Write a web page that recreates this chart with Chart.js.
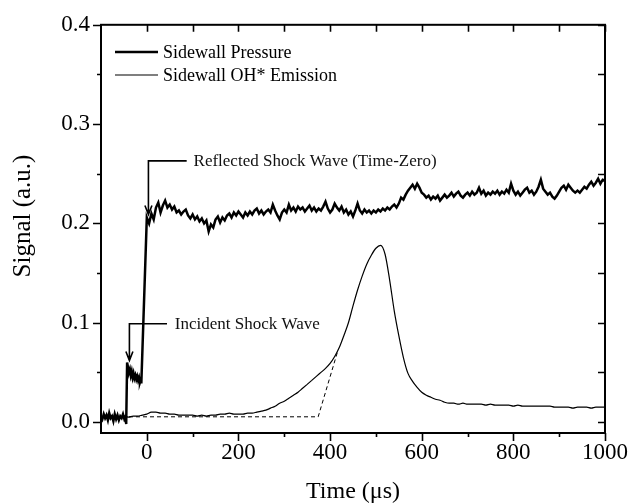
<!DOCTYPE html>
<html>
<head>
<meta charset="utf-8">
<script src="https://cdn.jsdelivr.net/npm/chart.js@4/dist/chart.umd.min.js"></script>
<style>
html,body{margin:0;padding:0;background:#fff;}
#wrap{width:634px;height:504px;}
</style>
</head>
<body>
<div id="wrap"><canvas id="c" width="634" height="504"></canvas></div>
<script>
// ---------------- data ----------------
const xTickLabels = [0, 200, 400, 600, 800, 1000];
const xMinorTicks = [100, 300, 500, 700, 900];
const yTickLabels = [0, 0.1, 0.2, 0.3, 0.4];
const yMinorTicks = [0.05, 0.15, 0.25, 0.35];

const seriesNames = ["Sidewall Pressure", "Sidewall OH* Emission"];

const pressureTime = [
  -100,-97,-94,-91,-88,-85,-82,-79,-76,-73,-70,-67,-64,-61,-58,-55,-52,-49,-46,
  -45,-43,-41,-39,-37,-35,-33,-31,-29,-27,-25,-23,-21,-19,-17,-15,-13,-12,
  0,5,10,15,20,25,30,35,40,45,50,55,60,65,70,75,80,85,90,95,
  100,105,110,115,120,125,130,135,140,145,150,155,160,165,170,175,180,185,190,195,
  200,205,210,215,220,225,230,235,240,245,250,255,260,265,270,275,280,285,290,295,
  300,305,310,315,320,325,330,335,340,345,350,355,360,365,370,375,380,385,390,395,
  400,405,410,415,420,425,430,435,440,445,450,455,460,465,470,475,480,485,490,495,
  500,505,510,515,520,525,530,535,540,545,550,555,560,565,570,575,580,585,590,595,
  600,605,610,615,620,625,630,635,640,645,650,655,660,665,670,675,680,685,690,695,
  700,705,710,715,720,725,730,735,740,745,750,755,760,765,770,775,780,785,790,795,
  800,805,810,815,820,825,830,835,840,845,850,855,860,865,870,875,880,885,890,895,
  900,905,910,915,920,925,930,935,940,945,950,955,960,965,970,975,980,985,990,995,
  1000
];
const pressureSignal = [
  0.006,0.003,0.008,0.004,0.007,0.002,0.009,0.004,0.006,0.001,0.008,0.003,0.007,0.002,0.006,0.004,0.008,0.003,0.006,
  -0.002,0.060,0.055,0.050,0.053,0.047,0.051,0.045,0.049,0.044,0.047,0.043,0.046,0.042,0.045,0.040,0.043,0.039,
  0.206,0.200,0.210,0.204,0.216,0.221,0.211,0.218,0.223,0.216,0.219,0.214,0.217,0.211,0.213,0.209,0.212,0.214,0.208,0.205,
  0.209,0.204,0.207,0.202,0.205,0.200,0.203,0.192,0.199,0.196,0.204,0.207,0.201,0.206,0.203,0.208,0.210,0.206,0.211,0.208,
  0.212,0.209,0.206,0.211,0.208,0.212,0.209,0.213,0.215,0.210,0.213,0.209,0.212,0.214,0.211,0.219,0.213,0.208,0.204,0.211,
  0.214,0.211,0.219,0.213,0.216,0.212,0.217,0.214,0.216,0.212,0.215,0.218,0.213,0.216,0.212,0.215,0.213,0.217,0.222,0.215,
  0.211,0.214,0.220,0.216,0.213,0.217,0.211,0.214,0.209,0.212,0.207,0.213,0.220,0.213,0.210,0.214,0.211,0.213,0.210,0.213,
  0.211,0.214,0.212,0.215,0.213,0.216,0.214,0.217,0.219,0.216,0.220,0.226,0.224,0.229,0.233,0.236,0.239,0.235,0.240,0.236,
  0.231,0.229,0.226,0.228,0.224,0.227,0.225,0.228,0.223,0.226,0.229,0.226,0.228,0.231,0.227,0.230,0.232,0.228,0.226,0.229,
  0.231,0.228,0.232,0.229,0.231,0.236,0.230,0.233,0.228,0.231,0.229,0.232,0.230,0.233,0.229,0.232,0.230,0.234,0.231,0.240,
  0.233,0.229,0.232,0.228,0.231,0.234,0.236,0.231,0.233,0.229,0.232,0.237,0.244,0.235,0.232,0.229,0.231,0.227,0.225,0.228,
  0.232,0.236,0.238,0.234,0.239,0.236,0.233,0.231,0.233,0.231,0.234,0.237,0.235,0.239,0.242,0.238,0.241,0.245,0.240,0.244,
  0.243
];

const ohTime = [
  -100,-90,-80,-70,-60,-50,-40,-30,-20,-10,
  0,10,20,30,40,50,60,70,80,90,
  100,110,120,130,140,150,160,170,180,190,
  200,210,220,230,240,250,260,270,280,290,
  300,310,320,330,340,350,360,370,380,390,
  400,410,420,430,440,450,460,470,480,490,
  500,510,520,530,540,550,560,570,580,590,
  600,610,620,630,640,650,660,670,680,690,
  700,710,720,730,740,750,760,770,780,790,
  800,810,820,830,840,850,860,870,880,890,
  900,910,920,930,940,950,960,970,980,990,
  1000
];
const ohSignal = [
  0.005,0.006,0.005,0.006,0.005,0.006,0.005,0.006,0.006,0.007,
  0.008,0.010,0.010,0.009,0.009,0.008,0.008,0.007,0.007,0.007,
  0.007,0.006,0.007,0.006,0.007,0.007,0.008,0.008,0.009,0.008,
  0.008,0.008,0.009,0.009,0.010,0.011,0.012,0.014,0.016,0.019,
  0.021,0.024,0.027,0.030,0.034,0.038,0.042,0.046,0.050,0.054,
  0.059,0.066,0.075,0.087,0.100,0.117,0.133,0.147,0.159,0.168,
  0.175,0.178,0.169,0.143,0.112,0.087,0.065,0.049,0.041,0.035,
  0.030,0.027,0.025,0.023,0.022,0.020,0.019,0.019,0.018,0.019,
  0.018,0.018,0.018,0.018,0.017,0.018,0.017,0.017,0.017,0.017,
  0.016,0.017,0.016,0.016,0.016,0.016,0.016,0.016,0.016,0.015,
  0.015,0.015,0.015,0.014,0.015,0.015,0.015,0.014,0.015,0.015,
  0.015
];

// dashed baseline / onset construction line
const baselineTime = [-100, 374, 417];
const baselineSignal = [0.0053, 0.0053, 0.072];

// annotations (data units)
const annoText = ["Reflected Shock Wave (Time-Zero)", "Incident Shock Wave"];
const annoStemX = [3.5, -38];
const annoTopY = [0.263, 0.099];
const annoTipY = [0.209, 0.062];
const annoEndX = [87, 44];
const annoTextX = [102, 61];

// ---------------- chart ----------------
const SERIF = '"Liberation Serif","Times New Roman",Times,serif';
function pts(xs, ys){ const n=Math.min(xs.length, ys.length); const a=[]; for(let i=0;i<n;i++) a.push({x:xs[i], y:ys[i]}); return a; }

const deco = {
  id: 'deco',
  afterDraw(chart){
    const ctx = chart.ctx, ca = chart.chartArea, xs = chart.scales.x, ys = chart.scales.y;
    ctx.save();
    ctx.strokeStyle = '#000';
    ctx.lineWidth = 2;
    ctx.strokeRect(ca.left, ca.top, ca.right - ca.left, ca.bottom - ca.top);
    ctx.lineWidth = 1.6;
    ctx.beginPath();
    const yAll = yTickLabels.map(v=>[v,true]).concat(yMinorTicks.map(v=>[v,false]));
    yAll.forEach(([v,maj])=>{
      const p = Math.round(ys.getPixelForValue(v)) + 0.5;
      ctx.moveTo(ca.left, p); ctx.lineTo(ca.left - (maj?8:4), p);
      ctx.moveTo(ca.right, p); ctx.lineTo(ca.right - 7, p);
    });
    const xAll = xTickLabels.map(v=>[v,true]).concat(xMinorTicks.map(v=>[v,false]));
    xAll.forEach(([v,maj])=>{
      const p = Math.round(xs.getPixelForValue(v)) + 0.5;
      ctx.moveTo(p, ca.bottom); ctx.lineTo(p, ca.bottom + (maj?8:4));
      ctx.moveTo(p, ca.top); ctx.lineTo(p, ca.top + 7);
    });
    ctx.stroke();

    ctx.fillStyle = '#000';
    ctx.font = '24px ' + SERIF;
    ctx.textAlign = 'center';
    ctx.textBaseline = 'alphabetic';
    ctx.fillText('Time (\u03bcs)', (ca.left + ca.right)/2, 498);
    ctx.save();
    ctx.translate(30, 216);
    ctx.rotate(-Math.PI/2);
    ctx.font = '25px ' + SERIF;
    ctx.fillText('Signal (a.u.)', 0, 0);
    ctx.restore();

    ctx.font = '18px ' + SERIF;
    ctx.textAlign = 'left';
    ctx.textBaseline = 'middle';
    const lw = [2.4, 1.2];
    const ly = [52, 75];
    for (let i=0;i<2;i++){
      ctx.lineWidth = lw[i];
      ctx.beginPath(); ctx.moveTo(115, ly[i]); ctx.lineTo(158, ly[i]); ctx.stroke();
      ctx.fillText(seriesNames[i], 163, ly[i] + 1);
    }

    ctx.font = '17px ' + SERIF;
    ctx.fillStyle = '#111';
    for (let i=0;i<annoText.length;i++){
      const sx = xs.getPixelForValue(annoStemX[i]);
      const ty = ys.getPixelForValue(annoTopY[i]);
      const tip = ys.getPixelForValue(annoTipY[i]);
      const ex = xs.getPixelForValue(annoEndX[i]);
      const tx = xs.getPixelForValue(annoTextX[i]);
      ctx.lineWidth = 1.6;
      ctx.beginPath();
      ctx.moveTo(ex, ty); ctx.lineTo(sx, ty); ctx.lineTo(sx, tip);
      ctx.moveTo(sx - 3.5, tip - 9); ctx.lineTo(sx, tip); ctx.lineTo(sx + 3.5, tip - 9);
      ctx.stroke();
      ctx.fillText(annoText[i], tx, ty + 1);
    }
    ctx.restore();
  }
};

new Chart(document.getElementById('c'), {
  type: 'line',
  data: {
    datasets: [
      { label: seriesNames[0], data: pts(pressureTime, pressureSignal), borderColor: '#000', borderWidth: 2.5, pointRadius: 0, tension: 0, fill: false },
      { label: seriesNames[1], data: pts(ohTime, ohSignal), borderColor: '#000', borderWidth: 1.2, pointRadius: 0, cubicInterpolationMode: 'monotone', fill: false },
      { label: 'baseline', data: pts(baselineTime, baselineSignal), borderColor: '#000', borderWidth: 1, borderDash: [4, 3], pointRadius: 0, tension: 0, fill: false }
    ]
  },
  options: {
    responsive: false,
    animation: false,
    layout: { padding: { left: 0, right: 25, top: 22, bottom: 0 } },
    plugins: { legend: { display: false }, tooltip: { enabled: false }, title: { display: false } },
    scales: {
      x: {
        type: 'linear', min: -100, max: 1000,
        afterBuildTicks: s => { s.ticks = xTickLabels.map(v => ({ value: v })); },
        afterFit: s => { s.height = 71; },
        grid: { display: false, drawTicks: false },
        border: { display: false },
        ticks: { font: { family: SERIF, size: 23 }, color: '#000', padding: 6, maxRotation: 0, autoSkip: false, callback: v => String(v) }
      },
      y: {
        type: 'linear', min: -0.011, max: 0.4,
        afterBuildTicks: s => { s.ticks = yTickLabels.map(v => ({ value: v })); },
        afterFit: s => { s.width = 101; },
        grid: { display: false, drawTicks: false },
        border: { display: false },
        ticks: { font: { family: SERIF, size: 23 }, color: '#000', padding: 11, autoSkip: false, callback: v => Number(v).toFixed(1) }
      }
    }
  },
  plugins: [deco]
});
</script>
</body>
</html>
